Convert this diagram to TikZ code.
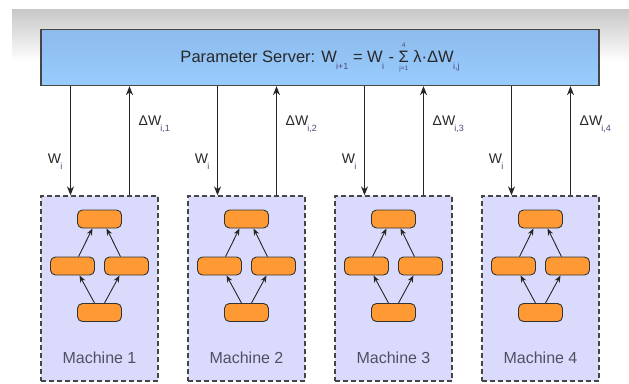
\documentclass[tikz,border=0pt]{standalone}
\usepackage{fontspec}
\setmainfont{Liberation Sans}
\usetikzlibrary{arrows.meta,calc}
\definecolor{psfillT}{RGB}{141,187,235}
\definecolor{psfillB}{RGB}{153,204,255}
\definecolor{mfill}{RGB}{218,218,252}
\definecolor{nfill}{RGB}{255,153,51}
\definecolor{edge}{RGB}{70,70,70}
\definecolor{txt}{RGB}{40,40,40}
\definecolor{subtxt}{RGB}{80,70,120}
\definecolor{mtxt}{RGB}{80,80,100}
\newcommand\lowsub[1]{\kern-0.8pt\raisebox{-0.42em}{\fontsize{9}{9}\selectfont\color{subtxt}#1}}
\newcommand\sumlim{$\mathop{\hbox{Σ}}\limits^{\hbox{\raisebox{1.5pt}{\fontsize{6.5}{6.5}\selectfont\color{subtxt}4}}}_{\hbox{\raisebox{-1.5pt}{\fontsize{6.5}{6.5}\selectfont\color{subtxt}j=1}}}$}
\begin{document}
\begin{tikzpicture}[x=1pt,y=-1pt,
  server/.style={draw=edge, line width=1.3pt, top color=psfillT, bottom color=psfillB,
    minimum width=558pt, minimum height=56pt, inner sep=0pt,
    font=\fontsize{16.5}{18}\selectfont, text=txt},
  machine/.style={draw=edge, dash pattern=on 5pt off 3pt, line width=1.3pt, fill=mfill,
    minimum width=117pt, minimum height=185pt, inner sep=0pt},
  task/.style={draw=black!80, line width=0.9pt, fill=nfill, rounded corners=5pt,
    minimum width=44pt, minimum height=18pt, inner sep=0pt},
  link/.style={draw=black!85, line width=1.1pt, -{Stealth[length=9pt,width=7pt]}},
  ilink/.style={draw=black!85, line width=0.9pt, -{Stealth[length=7pt,width=5.5pt]}},
  lbl/.style={font=\fontsize{14}{16}\selectfont, text=txt, inner sep=0pt},
  mlbl/.style={font=\fontsize{16}{18}\selectfont, text=mtxt, inner sep=0pt}
]
\useasboundingbox (0,0) rectangle (629,383);
\fill[white] (0,0) rectangle (629,383);
\shade[top color=black!22, bottom color=white] (12,9) rectangle (629,62);

\node[server] (ps) at (320,57.5) {Parameter Server: W\lowsub{i+1} = W\lowsub{i} - \sumlim\ λ·ΔW\lowsub{i,j}};

\foreach \i in {1,2,3,4}{
  \pgfmathsetmacro\cx{99.5+147*(\i-1)}
  \node[machine] (m\i) at (\cx,288.5) {};
  \node[task] (t\i) at (\cx,219) {};
  \node[task] (l\i) at (\cx-27,266) {};
  \node[task] (r\i) at (\cx+27,266) {};
  \node[task] (b\i) at (\cx,312.5) {};
  \draw[ilink] ([xshift=-5pt]b\i.north) -- ([xshift=7pt]l\i.south);
  \draw[ilink] ([xshift=5pt]b\i.north) -- ([xshift=-7pt]r\i.south);
  \draw[ilink] ([xshift=6pt]l\i.north) -- ([xshift=-7pt]t\i.south);
  \draw[ilink] ([xshift=-6pt]r\i.north) -- ([xshift=7pt]t\i.south);
  \node[mlbl] (ml\i) at (\cx,358) {Machine \i};
  \coordinate (d\i) at ([xshift=-29pt]m\i.north);
  \coordinate (u\i) at ([xshift=30pt]m\i.north);
  \draw[link] (d\i |- ps.south) -- (d\i);
  \draw[link] (u\i) -- (u\i |- ps.south);
  \node[lbl, anchor=east] (w\i) at ([shift={(-8,-34)}]d\i) {W\lowsub{i}};
  \node[lbl, anchor=west] (dw\i) at ([shift={(9,-71)}]u\i) {ΔW\lowsub{i,\i}};
}
\end{tikzpicture}
\end{document}
